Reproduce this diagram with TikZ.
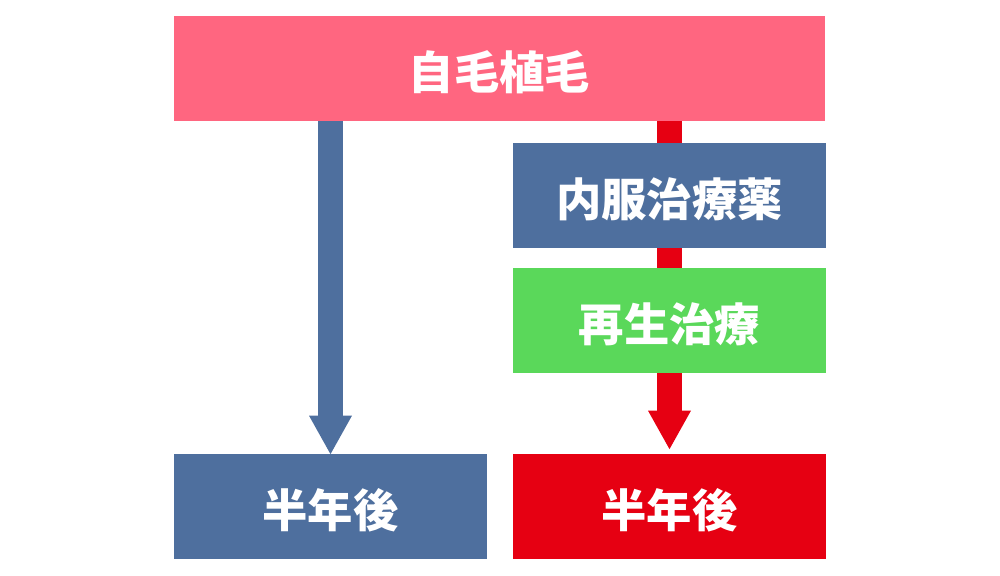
\documentclass[tikz,border=0pt]{standalone}
\usepackage{fontspec}
\setmainfont{Noto Sans CJK JP}
\usepackage{tikz}
\usetikzlibrary{arrows.meta,backgrounds}
\definecolor{Rose}{HTML}{FF6680}
\definecolor{Navy}{HTML}{4E6F9E}
\definecolor{Leaf}{HTML}{5AD85A}
\definecolor{Crimson}{HTML}{E60012}
\tikzset{
  block/.style={minimum height=2.1cm,minimum width=6.26cm,inner sep=0pt,text height=.96cm,text depth=.12cm,text=white,font=\fontsize{25.8}{30}\selectfont\bfseries},
  blockrose/.style={block,fill=Rose,minimum width=13.02cm},
  blocknavy/.style={block,fill=Navy},
  blockleaf/.style={block,fill=Leaf},
  blockred/.style={block,fill=Crimson},
  bigArrow/.style={line width=.5cm,-{Triangle[width=.86cm,length=.77cm,line width=0pt]}}
}
\begin{document}
\begin{tikzpicture}[x=1cm,y=1cm]
  \useasboundingbox (0,0) rectangle (20,11.52);
  \node[blockrose] (hair) at (9.99,10.15) {自毛植毛};
  \node[blocknavy] (oral) at (13.39,7.61) {内服治療薬};
  \node[blockleaf] (regen) at (13.39,5.10) {再生治療};
  \node[blocknavy] (halfL) at (6.61,1.38) {半年後};
  \node[blockred] (halfR) at (13.39,1.38) {半年後};
  \begin{scope}[on background layer]
    \draw[bigArrow,draw=Navy,fill=Navy] (hair.south -| halfL) -- (halfL.north);
    \draw[bigArrow,draw=Crimson,fill=Crimson,shorten >=.1cm] (hair.south -| halfR) -- (halfR.north);
  \end{scope}
\end{tikzpicture}
\end{document}
